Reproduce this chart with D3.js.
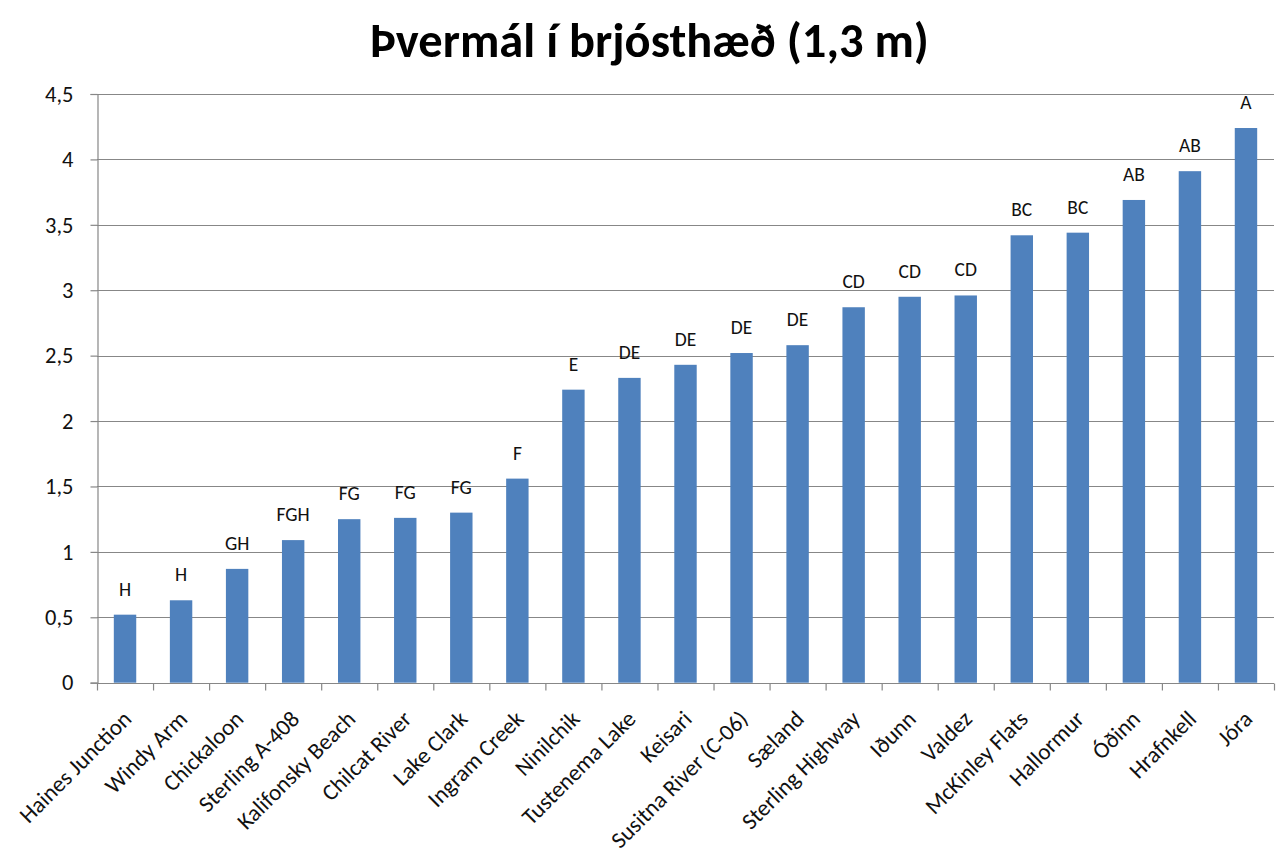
<!DOCTYPE html>
<html>
<head>
<meta charset="utf-8">
<script src="https://cdn.jsdelivr.net/npm/d3@7"></script>
<style>
  body { margin: 0; background: #fff; }
  svg { display: block; }
</style>
</head>
<body>
<svg id="chart" width="1282" height="854"></svg>
<script>
// Stem diameter at breast height (1.3 m) per provenance, with significance groups
const sites = [
  "Haines Junction", "Windy Arm", "Chickaloon", "Sterling A-408", "Kalifonsky Beach",
  "Chilcat River", "Lake Clark", "Ingram Creek", "Ninilchik", "Tustenema Lake",
  "Keisari", "Susitna River (C-06)", "Sæland", "Sterling Highway", "Iðunn",
  "Valdez", "McKinley Flats", "Hallormur", "Óðinn", "Hrafnkell", "Jóra"
];
const diameters = [
  0.52, 0.63, 0.87, 1.09, 1.25,
  1.26, 1.30, 1.56, 2.24, 2.33,
  2.43, 2.52, 2.58, 2.87, 2.95,
  2.96, 3.42, 3.44, 3.69, 3.91, 4.24
];
const groups = [
  "H", "H", "GH", "FGH", "FG",
  "FG", "FG", "F", "E", "DE",
  "DE", "DE", "DE", "CD", "CD",
  "CD", "BC", "BC", "AB", "AB", "A"
];
const yTicks = [0, 0.5, 1, 1.5, 2, 2.5, 3, 3.5, 4, 4.5];
const chartTitle = "Þvermál í brjósthæð (1,3 m)";

const FONT = "Carlito, Lato, 'Open Sans', 'Noto Sans', sans-serif";
const GRID = "#878787";
const BAR = "#4F81BD";
const INK = "#111";

const svg = d3.select("#chart");
const plot = { left: 97, right: 1274, top: 94, bottom: 682.7 };

// Pick a font size that gives a sample string a given width
function fitSize(sample, weight, width) {
  const t = svg.append("text")
    .attr("font-family", FONT).attr("font-weight", weight)
    .attr("font-size", 100).text(sample);
  const w = t.node().getComputedTextLength();
  t.remove();
  return 100 * width / w;
}

const titleSize = fitSize(chartTitle, 700, 559);
const xLabelSize = fitSize("Haines Junction", 400, 147);
const yLabelSize = fitSize("0,5", 400, 28.4);
const groupSize = fitSize("DE", 400, 21.5);

const x = d3.scaleBand()
  .domain(sites)
  .range([plot.left, plot.right])
  .paddingInner(0.6)
  .paddingOuter(0.3);

const y = d3.scaleLinear()
  .domain([0, 4.5])
  .range([plot.bottom, plot.top]);

const comma = d => String(d).replace(".", ",");

// Horizontal gridlines
svg.append("g")
  .selectAll("line")
  .data(yTicks.filter(d => d > 0))
  .join("line")
  .attr("x1", plot.left).attr("x2", plot.right)
  .attr("y1", d => Math.round(y(d)) + 0.5)
  .attr("y2", d => Math.round(y(d)) + 0.5)
  .attr("stroke", GRID).attr("stroke-width", 1.2);

// Bars
svg.append("g")
  .selectAll("rect")
  .data(sites)
  .join("rect")
  .attr("x", d => x(d))
  .attr("width", x.bandwidth())
  .attr("y", (d, i) => y(diameters[i]))
  .attr("height", (d, i) => y(0) - y(diameters[i]))
  .attr("fill", BAR);

// Group letters above bars
svg.append("g")
  .selectAll("text")
  .data(sites)
  .join("text")
  .attr("x", d => x(d) + x.bandwidth() / 2)
  .attr("y", (d, i) => y(diameters[i]) - 19)
  .attr("text-anchor", "middle")
  .attr("font-family", FONT)
  .attr("font-size", groupSize)
  .attr("fill", INK)
  .text((d, i) => groups[i]);

// Left axis
const yAxis = svg.append("g")
  .attr("transform", `translate(${plot.left + 0.5},0)`)
  .call(d3.axisLeft(y).tickValues(yTicks).tickSize(7).tickPadding(17).tickFormat(comma));
yAxis.select(".domain").attr("stroke", GRID).attr("stroke-width", 1.2);
yAxis.selectAll(".tick line").attr("stroke", GRID).attr("stroke-width", 1.2);
yAxis.selectAll(".tick text")
  .attr("font-family", FONT)
  .attr("font-size", yLabelSize)
  .attr("fill", INK);

// Bottom axis with tick marks between categories
const edges = d3.scaleLinear().domain([0, sites.length]).range([plot.left, plot.right]);
const xAxis = svg.append("g")
  .attr("transform", `translate(0,${Math.round(plot.bottom) + 0.5})`)
  .call(d3.axisBottom(edges).tickValues(d3.range(sites.length + 1)).tickSize(7).tickFormat(""))
  .call(g => g.select(".domain").attr("d", `M${plot.left},0H${plot.right}`));
xAxis.select(".domain").attr("stroke", GRID).attr("stroke-width", 1.2);
xAxis.selectAll(".tick line").attr("stroke", GRID).attr("stroke-width", 1.2);

// Rotated category labels
svg.append("g")
  .selectAll("text")
  .data(sites)
  .join("text")
  .attr("transform", d => `translate(${x(d) + x.bandwidth() / 2 + 2},${plot.bottom + 32}) rotate(-45)`)
  .attr("text-anchor", "end")
  .attr("dy", "0.35em")
  .attr("font-family", FONT)
  .attr("font-size", xLabelSize)
  .attr("fill", INK)
  .text(d => d);

// Title
svg.append("text")
  .attr("x", 649.5)
  .attr("y", 57)
  .attr("text-anchor", "middle")
  .attr("font-family", FONT)
  .attr("font-weight", 700)
  .attr("font-size", titleSize)
  .attr("fill", "#000")
  .text(chartTitle);
</script>
</body>
</html>
